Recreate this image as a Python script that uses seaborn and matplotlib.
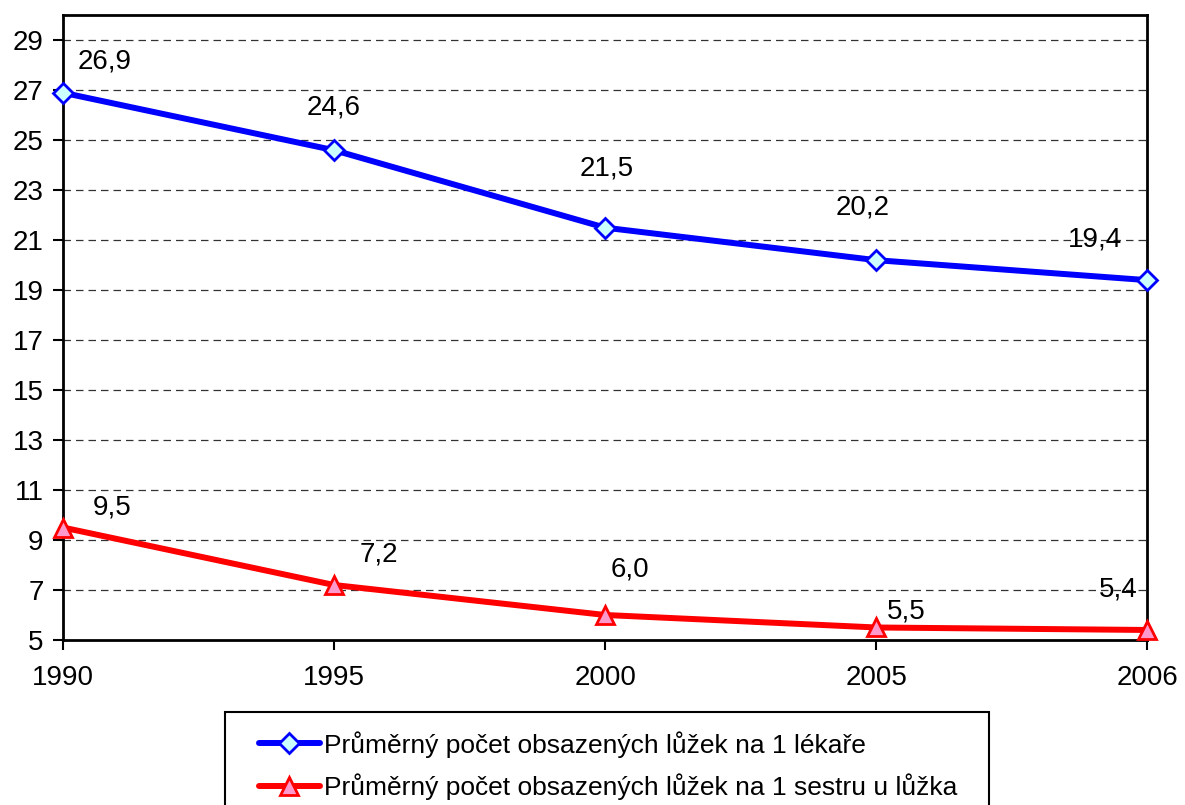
import numpy as np
import pandas as pd
import matplotlib
matplotlib.use('Agg')
import matplotlib.pyplot as plt
from matplotlib.patches import Rectangle
import seaborn as sns

# data
years = ['1990', '1995', '2000', '2005', '2006']
lekar = [26.9, 24.6, 21.5, 20.2, 19.4]
sestra = [9.5, 7.2, 6.0, 5.5, 5.4]
label_lekar = 'Průměrný počet obsazených lůžek na 1 lékaře'
label_sestra = 'Průměrný počet obsazených lůžek na 1 sestru u lůžka'
yticks = list(range(5, 30, 2))

# label offsets in pixels (text placement only)
off_lekar = [(42, 31), (0, 43), (2, 59), (-14, 53), (-52, 41)]
off_sestra = [(49, 20), (45, 31), (25, 45), (30, 16), (-29, 40)]

sns.set_theme(style='white')
plt.rcParams['font.family'] = ['Liberation Sans', 'DejaVu Sans']
plt.rcParams['text.color'] = 'black'

pos = np.arange(len(years))
df = pd.DataFrame({'pos': np.concatenate([pos, pos]),
                   'val': lekar + sestra,
                   'serie': [label_lekar] * len(years) + [label_sestra] * len(years)})

fig = plt.figure(figsize=(11.85, 8.05), dpi=100)
ax = fig.add_axes([0.0532, 0.205, 0.915, 0.776])

styles = {label_lekar: dict(color='#0000ff', marker='D', mfc='#ccffff', ms=10.5),
          label_sestra: dict(color='#ff0000', marker='^', mfc='#ff99cc', ms=13)}
for name, st in styles.items():
    sub = df[df['serie'] == name]
    sns.lineplot(data=sub, x='pos', y='val', ax=ax, color=st['color'], linewidth=4.3,
                 marker=st['marker'], markersize=st['ms'], markerfacecolor=st['mfc'],
                 markeredgecolor=st['color'], markeredgewidth=2, label=name,
                 legend=False, clip_on=False, zorder=5)

for vals, offs in ((lekar, off_lekar), (sestra, off_sestra)):
    for i, (v, o) in enumerate(zip(vals, offs)):
        ax.annotate(f'{v:.1f}'.replace('.', ','), (pos[i], v), xytext=o,
                    textcoords='offset pixels', ha='center', va='center',
                    fontsize=20, color='black', zorder=6)

ax.set_xlim(pos[0], pos[-1])
ax.set_ylim(5, 30)
ax.set_xticks(pos)
ax.set_xticklabels(years)
ax.set_yticks(yticks)
ax.set_xlabel('')
ax.set_ylabel('')
ax.tick_params(axis='both', direction='out', length=7, width=1.5, color='black',
               labelsize=20, labelcolor='black', bottom=True, left=True)
ax.tick_params(axis='y', pad=7)
ax.tick_params(axis='x', pad=11)
for y in yticks[1:]:
    ax.axhline(y, color='black', linestyle=(0, (6, 4)), linewidth=0.9, alpha=0.8, zorder=1)
for s in ax.spines.values():
    s.set_visible(True)
    s.set_color('black')
    s.set_linewidth(2)

handles, labels = ax.get_legend_handles_labels()
leg = fig.legend(handles, labels, loc='upper left', bbox_to_anchor=(259 / 1185, 1 - 731 / 805),
                 fontsize=19, frameon=False, handlelength=2.3, handletextpad=0.15,
                 borderpad=0, labelspacing=0.6, borderaxespad=0)
for t in leg.get_texts():
    t.set_color('black')

# legend frame: wider side padding than matplotlib's uniform borderpad
fig.canvas.draw()
bb = leg.get_window_extent()
fig.patches.append(Rectangle((bb.x0 - 34, bb.y0 - 40), bb.width + 66, bb.height + 59,
                             transform=None, fill=False, edgecolor='black',
                             linewidth=1.5, zorder=0))

fig.savefig('out.png', dpi=100)
